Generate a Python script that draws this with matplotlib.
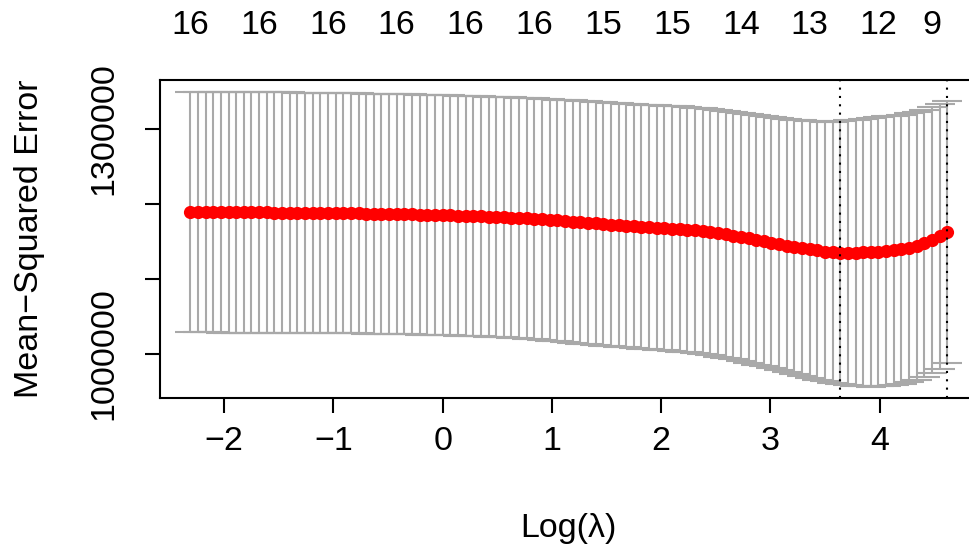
import matplotlib
matplotlib.use("Agg")
import matplotlib.pyplot as plt
import matplotlib.transforms as mtransforms
import numpy as np

# log(lambda) grid of the cross-validation path
log_lambda = [
    -2.31, -2.24, -2.17, -2.10, -2.03, -1.96, -1.89, -1.82, -1.75, -1.68,
    -1.61, -1.54, -1.47, -1.40, -1.33, -1.26, -1.19, -1.12, -1.05, -0.98,
    -0.91, -0.84, -0.77, -0.70, -0.63, -0.56, -0.49, -0.42, -0.35, -0.28,
    -0.21, -0.14, -0.07, 0.00, 0.07, 0.14, 0.21, 0.28, 0.35, 0.42,
    0.49, 0.56, 0.63, 0.70, 0.77, 0.84, 0.91, 0.98, 1.05, 1.12,
    1.19, 1.26, 1.33, 1.40, 1.47, 1.54, 1.61, 1.68, 1.75, 1.82,
    1.89, 1.96, 2.03, 2.10, 2.17, 2.24, 2.31, 2.38, 2.45, 2.52,
    2.59, 2.66, 2.73, 2.80, 2.87, 2.94, 3.01, 3.08, 3.15, 3.22,
    3.29, 3.36, 3.43, 3.50, 3.57, 3.64, 3.71, 3.78, 3.85, 3.92,
    3.99, 4.06, 4.13, 4.20, 4.27, 4.34, 4.41, 4.48, 4.55, 4.62,
]

# mean cross-validated MSE (thousands)
cvm_k = [
    1188.8, 1188.8, 1188.7, 1188.7, 1188.6, 1188.6, 1188.5, 1188.5, 1188.4, 1188.4,
    1188.3, 1188.2, 1188.2, 1188.1, 1188.0, 1187.9, 1187.8, 1187.7, 1187.6, 1187.5,
    1187.3, 1187.2, 1187.0, 1186.9, 1186.7, 1186.5, 1186.3, 1186.1, 1185.9, 1185.7,
    1185.5, 1185.2, 1185.0, 1184.7, 1184.4, 1184.1, 1183.8, 1183.5, 1183.2, 1182.8,
    1182.5, 1182.0, 1181.5, 1181.0, 1180.4, 1179.8, 1179.1, 1178.4, 1177.6, 1176.8,
    1176.0, 1175.2, 1174.5, 1173.7, 1172.9, 1172.2, 1171.5, 1170.8, 1170.2, 1169.5,
    1168.9, 1168.2, 1167.6, 1166.9, 1166.2, 1165.3, 1164.4, 1163.3, 1162.1, 1160.7,
    1159.2, 1157.5, 1155.7, 1153.8, 1151.9, 1150.0, 1148.0, 1146.0, 1144.0, 1142.2,
    1140.5, 1139.0, 1137.7, 1136.2, 1135.1, 1134.5, 1134.6, 1134.7, 1134.9, 1135.3,
    1135.8, 1136.6, 1137.8, 1139.4, 1141.5, 1144.0, 1147.2, 1151.2, 1156.3, 1162.5,
]

# standard error of the CV estimate (thousands)
cvsd_k = [
    160.5, 160.5, 160.5, 160.5, 160.5, 160.5, 160.5, 160.5, 160.5, 160.5,
    160.3, 160.3, 160.3, 160.3, 160.3, 160.3, 160.3, 160.3, 160.3, 160.3,
    160.1, 160.1, 160.1, 160.1, 160.1, 160.1, 160.1, 160.1, 160.1, 160.1,
    160.1, 160.1, 160.1, 160.1, 160.1, 160.1, 160.1, 160.1, 160.1, 160.1,
    160.2, 160.3, 160.4, 160.5, 160.6, 160.8, 161.0, 161.2, 161.4, 161.6,
    161.8, 162.0, 162.1, 162.2, 162.3, 162.4, 162.5, 162.6, 162.7, 162.8,
    162.9, 163.0, 163.1, 163.3, 163.5, 163.7, 163.9, 164.1, 164.4, 164.7,
    165.0, 165.3, 165.6, 166.0, 166.5, 167.0, 167.5, 168.1, 168.8, 169.6,
    170.5, 171.4, 172.3, 173.3, 174.3, 175.4, 176.5, 177.6, 178.5, 179.2,
    179.6, 179.8, 179.8, 179.6, 179.3, 178.9, 178.3, 177.4, 176.3, 174.8,
]

# number of non-zero coefficients shown along the top
top_idx = [0, 9, 18, 27, 36, 45, 54, 63, 72, 81, 90, 97]
top_labels = ["16", "16", "16", "16", "16", "16", "15", "15", "14", "13", "12", "9"]

x_ticks = [-2, -1, 0, 1, 2, 3, 4]
y_ticks = [1000000, 1100000, 1200000, 1300000]
y_tick_labels = ["1000000", "", "", "1300000"]

idx_min = 85   # lambda.min
idx_1se = 99   # lambda.1se

plt.rcParams["font.family"] = ["Liberation Sans", "DejaVu Sans"]
FS = 24.5

x = np.array(log_lambda)
cvm = np.array(cvm_k) * 1000
cvsd = np.array(cvsd_k) * 1000
up = cvm + cvsd
lo = cvm - cvsd

fig = plt.figure(figsize=(9.69, 5.48), dpi=100)
W, H = 969, 548
left, right, top, bottom = 160, 977.6, 80, 398.3
ax = fig.add_axes([left / W, (H - bottom) / H, (right - left) / W, (bottom - top) / H])

# error bars like glmnet's error.bars()
barw = (x.max() - x.min()) * 0.02
grey = "#A9A9A9"
lw = 1.5
ax.vlines(x, lo, up, color=grey, lw=lw, zorder=1)
ax.hlines(up, x - barw, x + barw, color=grey, lw=lw, zorder=1)
ax.hlines(lo, x - barw, x + barw, color=grey, lw=lw, zorder=1)

ax.plot(x, cvm, "o", color="red", ms=9.5, mew=0, zorder=2)

for i in (idx_min, idx_1se):
    ax.axvline(x[i], color="black", lw=lw, ls=(0, (1, 3)), zorder=3)

xr = x.max() - x.min()
ax.set_xlim(x.min() - 0.04 * xr, x.max() + 0.04 * xr)
yr = up.max() - lo.min()
ax.set_ylim(lo.min() - 0.04 * yr, up.max() + 0.04 * yr)

ax.set_xticks(x_ticks)
ax.set_xticklabels([str(t) if t >= 0 else "\u2212" + str(-t) for t in x_ticks], fontsize=FS)
ax.set_yticks(y_ticks)
ax.set_yticklabels(y_tick_labels, fontsize=FS, rotation=90, va="center")

ax.tick_params(axis="both", length=11, width=lw, color="black")
ax.tick_params(axis="x", pad=9)
ax.tick_params(axis="y", pad=18)
for s in ax.spines.values():
    s.set_linewidth(lw)
    s.set_color("black")

ax.set_xlabel("Log(\u03bb)", fontsize=FS, va="center")
ax.xaxis.set_label_coords(0.5, (H - 528 - (H - bottom)) / (bottom - top))
ax.set_ylabel("Mean\u2212Squared Error", fontsize=FS, va="center", ha="center")
ax.yaxis.set_label_coords((30 - left) / (right - left), 0.5)

trans = mtransforms.blended_transform_factory(ax.transData, ax.transAxes)
ty = (H - 25 - (H - bottom)) / (bottom - top)
for i, lab in zip(top_idx, top_labels):
    ax.text(x[i], ty, lab, transform=trans, ha="center", va="center",
            fontsize=FS, clip_on=False)

fig.savefig("out.png", dpi=100)
